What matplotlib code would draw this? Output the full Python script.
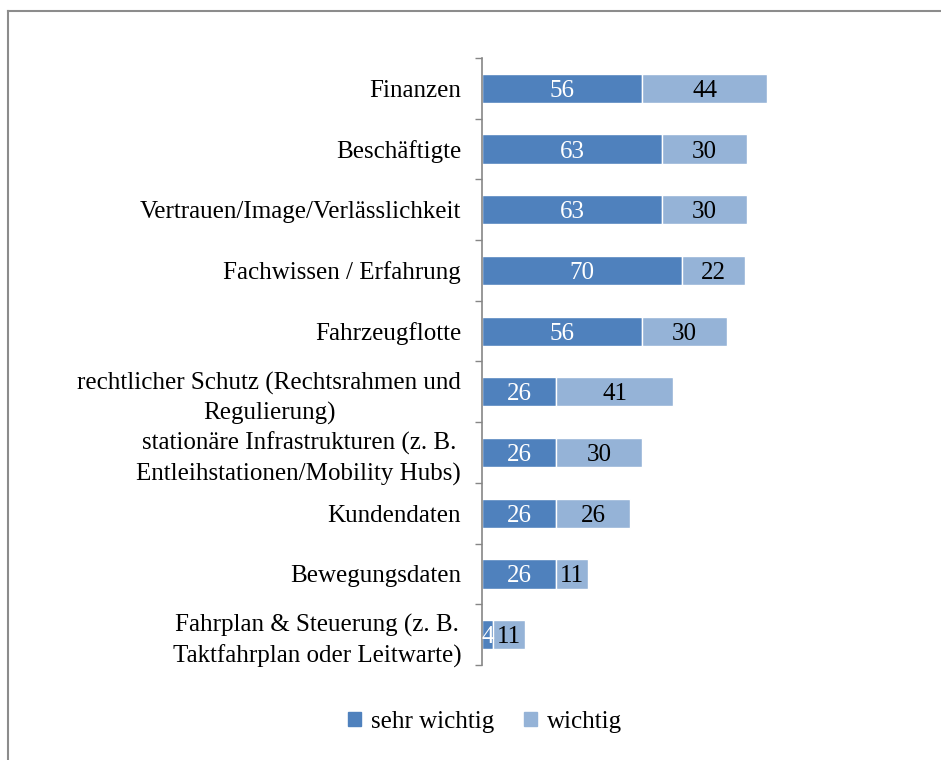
import matplotlib.pyplot as plt
from matplotlib.patches import Patch
from matplotlib.lines import Line2D

kategorien = [
    'Finanzen',
    'Beschäftigte',
    'Vertrauen/Image/Verlässlichkeit',
    'Fachwissen / Erfahrung',
    'Fahrzeugflotte',
    'rechtlicher Schutz (Rechtsrahmen und\nRegulierung)',
    'stationäre Infrastrukturen (z. B.\nEntleihstationen/Mobility Hubs)',
    'Kundendaten',
    'Bewegungsdaten',
    'Fahrplan & Steuerung (z. B.\nTaktfahrplan oder Leitwarte)',
]
sehr_wichtig = [56, 63, 63, 70, 56, 26, 26, 26, 26, 4]
wichtig = [44, 30, 30, 22, 30, 41, 30, 26, 11, 11]

farbe_sehr = '#4F81BD'
farbe_wichtig = '#95B3D7'

plt.rcParams['font.family'] = ['Liberation Serif', 'DejaVu Serif']

fig = plt.figure(figsize=(9.41, 7.6), dpi=100)
ax = fig.add_axes([482 / 941, 1 - 665 / 760, (910 - 482) / 941, (665 - 58) / 760])

y = list(range(len(kategorien)))
ax.barh(y, sehr_wichtig, height=0.48, color=farbe_sehr, edgecolor='white', linewidth=1)
ax.barh(y, wichtig, left=sehr_wichtig, height=0.48, color=farbe_wichtig,
        edgecolor='white', linewidth=1)

for i in y:
    ax.text(sehr_wichtig[i] / 2, i, str(sehr_wichtig[i]), color='white',
            ha='center', va='center_baseline', fontsize=18)
    ax.text(sehr_wichtig[i] + wichtig[i] / 2, i, str(wichtig[i]), color='black',
            ha='center', va='center_baseline', fontsize=18)

ax.set_xlim(0, 150)
ax.set_ylim(len(kategorien) - 0.5, -0.5)
ax.set_yticks(y)
ax.set_yticklabels(kategorien, fontsize=18, multialignment='center', linespacing=1.4)
ax.tick_params(axis='y', which='major', length=0, pad=15)
ax.set_yticks([i - 0.5 for i in range(len(kategorien) + 1)], minor=True)
ax.tick_params(axis='y', which='minor', length=5, color='#868686', width=1)
ax.set_xticks([])
for s in ['top', 'right', 'bottom']:
    ax.spines[s].set_visible(False)
ax.spines['left'].set_color('#868686')
ax.spines['left'].set_linewidth(1.2)

# Rahmen oben und links
fig.add_artist(Line2D([8 / 941, 1], [1 - 11 / 760, 1 - 11 / 760], color='#8c8c8c', lw=1.5))
fig.add_artist(Line2D([8 / 941, 8 / 941], [0, 1 - 11 / 760], color='#8c8c8c', lw=1.5))

handles = [Patch(color=farbe_sehr), Patch(color=farbe_wichtig)]
fig.legend(handles, ['sehr wichtig', 'wichtig'], loc='center', ncol=2,
           bbox_to_anchor=(485 / 941, 1 - 722 / 760), frameon=False, fontsize=18,
           handlelength=0.5, handleheight=0.5, handletextpad=0.4, columnspacing=1.2)

fig.savefig('out.png', dpi=100, facecolor='white')
